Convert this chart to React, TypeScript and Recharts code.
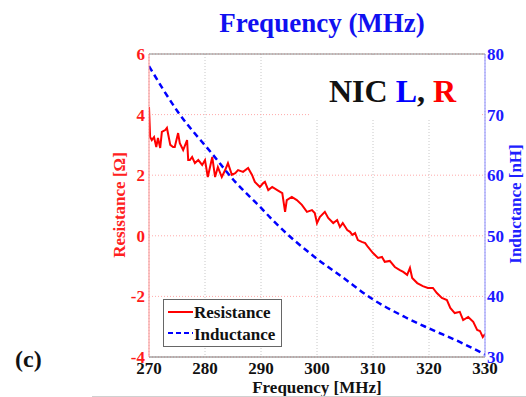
import React from 'react';
import { LineChart, Line, XAxis, YAxis, CartesianGrid, Legend, ReferenceLine } from 'recharts';

// Frequency (MHz) samples for the measured resistance trace
const freqR = [
  270.0, 270.2, 270.5, 270.9, 271.3, 271.6, 272.0, 272.3, 272.9, 273.2, 273.8, 274.3, 274.6, 275.2, 275.5,
  276.1, 276.8, 277.0, 277.3, 277.7, 278.2, 278.8, 279.5, 280.0, 280.5, 281.3, 281.8, 282.3, 283.0, 283.6,
  284.1, 284.8, 285.4, 285.9, 286.8, 287.7, 288.4, 288.9, 289.8, 290.4, 290.7, 291.3, 292.0, 292.9, 293.8,
  294.3, 294.6, 295.5, 296.4, 297.3, 298.2, 299.1, 299.6, 300.0, 300.5, 301.4, 302.0, 302.9, 303.6, 304.1,
  304.6, 305.4, 305.9, 306.3, 306.8, 307.3, 308.0, 308.6, 309.1, 310.0, 310.9, 311.6, 312.1, 313.0, 313.9,
  314.8, 315.4, 316.1, 316.6, 317.0, 317.9, 318.9, 319.8, 320.7, 321.4, 322.3, 323.2, 323.8, 324.6, 325.5,
  326.1, 327.0, 327.9, 328.6, 329.1, 329.6, 330.0,
];
// Resistance (Ohm)
const resistance = [
  4.25, 3.26, 3.16, 3.26, 2.93, 3.23, 2.9, 3.43, 3.49, 3.56, 3.0, 2.93, 2.93, 3.39, 3.06,
  2.83, 3.16, 2.5, 2.5, 2.6, 2.4, 2.5, 2.34, 2.5, 1.94, 2.6, 1.94, 2.27, 1.94, 2.17,
  2.4, 2.01, 2.07, 2.17, 2.11, 2.24, 2.01, 1.78, 1.61, 1.74, 1.78, 1.51, 1.61, 1.51, 1.41,
  0.79, 1.18, 1.28, 1.18, 1.02, 0.79, 0.85, 0.75, 0.42, 0.62, 0.79, 0.59, 0.42, 0.52, 0.29,
  0.42, 0.19, 0.13, 0.03, 0.09, -0.14, -0.2, -0.24, -0.37, -0.57, -0.73, -0.7, -0.86, -0.83, -1.03,
  -1.13, -1.19, -1.29, -1.06, -1.39, -1.56, -1.66, -1.72, -1.72, -1.89, -2.05, -2.12, -2.38, -2.55, -2.51,
  -2.78, -2.68, -2.84, -3.11, -3.14, -3.34, -3.24,
];

// Frequency (MHz) samples for the inductance trace
const freqL = [270, 275.2, 281.3, 285.4, 289.8, 292.5, 300, 304.5, 310, 315.7, 319.8, 325.9, 330];
// Inductance (nH)
const inductance = [78.0, 70.4, 63.5, 58.9, 54.8, 52.2, 46.2, 43.2, 39.5, 36.6, 34.8, 32.3, 30.4];

const xTicks = [270, 280, 290, 300, 310, 320, 330];
const rTicks = [-4, -2, 0, 2, 4, 6];
const lTicks = [30, 40, 50, 60, 70, 80];

const rData = freqR.map((f, i) => ({ f, r: resistance[i] }));
const lData = freqL.map((f, i) => ({ f, l: inductance[i] }));

const FONT = '"Liberation Serif", "Times New Roman", Times, serif';

const tickStyle = (fill: string) => ({ fill, fontSize: 17, fontWeight: 700, fontFamily: FONT });

const LegendBox = () => (
  <svg width={120} height={49} style={{ display: 'block' }}>
    <rect x={0.5} y={0.5} width={118} height={47} fill="#fff" stroke="#666" strokeWidth={1} />
    <line x1={5} x2={30} y1={13} y2={13} stroke="#ff0000" strokeWidth={2} />
    <text x={31} y={19} fontFamily={FONT} fontSize={17} fontWeight={700} fill="#111">Resistance</text>
    <line x1={5} x2={30} y1={34} y2={34} stroke="#0000ff" strokeWidth={2} strokeDasharray="5 3" />
    <text x={31} y={41} fontFamily={FONT} fontSize={17} fontWeight={700} fill="#111">Inductance</text>
  </svg>
);

export default function App() {
  return (
    <div style={{ position: 'absolute', left: 0, top: 0, width: 526, height: 397, background: '#fff' }}>
      <LineChart width={526} height={397} margin={{ top: 54, right: 1, bottom: 10, left: 109 }}>
        <CartesianGrid yAxisId="R" horizontal={false} stroke="#c8c8c8" strokeDasharray="1 2" />
        <CartesianGrid yAxisId="R" vertical={false} stroke="#ffaaaa" strokeDasharray="1 2" />
        <XAxis
          dataKey="f"
          type="number"
          domain={[270, 330]}
          ticks={xTicks}
          allowDataOverflow
          height={30}
          tickSize={0}
          tickMargin={5}
          tick={tickStyle('#111')}
          stroke="#777"
        />
        <YAxis
          yAxisId="R"
          orientation="left"
          domain={[-4, 6]}
          ticks={rTicks}
          allowDataOverflow
          width={40}
          tickSize={0}
          tickMargin={4}
          tick={tickStyle('#ff1a1a')}
          stroke="#ff8a8a"
        />
        <YAxis
          yAxisId="L"
          orientation="right"
          domain={[30, 80]}
          ticks={lTicks}
          allowDataOverflow
          width={40}
          tickSize={0}
          tickMargin={2}
          tick={tickStyle('#1a1aff')}
          stroke="#8a8aff"
        />
        <ReferenceLine yAxisId="R" y={6} stroke="#888" strokeWidth={1} />
        <Line
          yAxisId="R"
          data={rData}
          dataKey="r"
          type="linear"
          stroke="#ff0000"
          strokeWidth={2}
          dot={false}
          isAnimationActive={false}
          name="Resistance"
        />
        <Line
          yAxisId="L"
          data={lData}
          dataKey="l"
          type="monotone"
          stroke="#0000ff"
          strokeWidth={2.5}
          strokeDasharray="6 4"
          dot={false}
          isAnimationActive={false}
          name="Inductance"
        />
        <Legend
          layout="horizontal"
          verticalAlign="middle"
          align="center"
          content={() => <LegendBox />}
          wrapperStyle={{ position: 'absolute', left: 163, top: 299, width: 120, height: 49 }}
        />
      </LineChart>
      <svg
        width={526}
        height={397}
        style={{ position: 'absolute', left: 0, top: 0, pointerEvents: 'none' }}
      >
        <rect x={310} y={57} width={171} height={63} fill="#fff" />
        <text x={322} y={32} textAnchor="middle" fontFamily={FONT} fontSize={27} fontWeight={700} fill="#1010f0">
          Frequency (MHz)
        </text>
        <text x={329} y={102} fontFamily={FONT} fontSize={32} fontWeight={700} fill="#111">
          NIC <tspan fill="#0000ff">L</tspan>, <tspan fill="#ff0000">R</tspan>
        </text>
        <text x={15} y={367} fontFamily={FONT} fontSize={24} fontWeight={700} fill="#111">(c)</text>
        <text
          transform="translate(125,205) rotate(-90)"
          textAnchor="middle"
          fontFamily={FONT}
          fontSize={17}
          fontWeight={700}
          fill="#ff2020"
        >
          Resistance [Ω]
        </text>
        <text
          transform="translate(521,204) rotate(-90)"
          textAnchor="middle"
          fontFamily={FONT}
          fontSize={17}
          fontWeight={700}
          fill="#2020ff"
        >
          Inductance [nH]
        </text>
        <text x={317} y={393} textAnchor="middle" fontFamily={FONT} fontSize={17} fontWeight={700} fill="#111">
          Frequency [MHz]
        </text>
        <line x1={92} x2={526} y1={396.5} y2={396.5} stroke="#d0d0d0" strokeWidth={1} />
      </svg>
    </div>
  );
}
